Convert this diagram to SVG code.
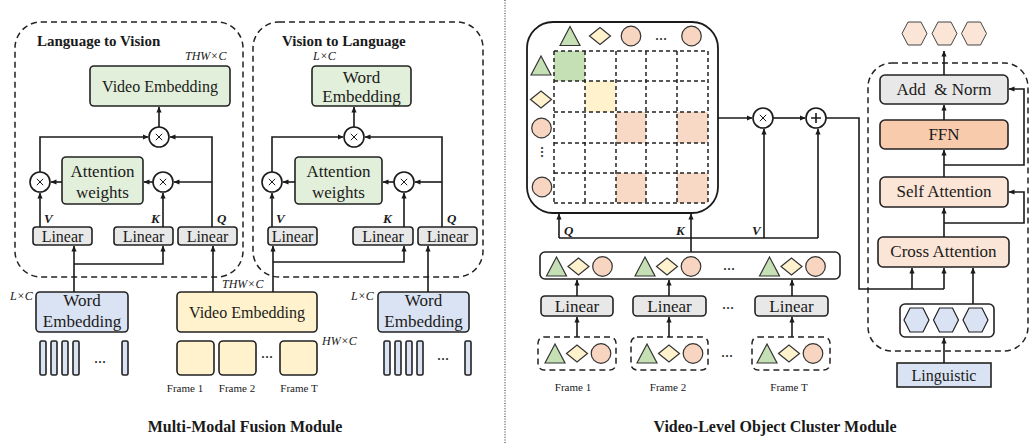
<svg xmlns="http://www.w3.org/2000/svg" width="1031" height="444" viewBox="0 0 1031 444">
  <style>
    text { font-family: "Liberation Serif", "Times New Roman", serif; fill: #1a1a1a; }
    .t16 { font-size: 16px; }
    .t17 { font-size: 17px; }
    .lbl { font-size: 11px; }
    .hd { font-size: 15px; font-weight: bold; }
    .title { font-size: 16px; font-weight: bold; }
    .math { font-size: 12px; font-style: italic; }
    .qkv { font-size: 13px; font-style: italic; font-weight: bold; }
    .box { stroke: #222; stroke-width: 1.6; }
    .green { fill: #e2efda; }
    .blue { fill: #dae3f3; }
    .yellow { fill: #fff2cc; }
    .gray { fill: #e8e8e8; }
    .peach { fill: #fbe5d6; }
    .ffn { fill: #f8cbad; }
    .dash { fill: none; stroke: #222; stroke-width: 1.5; stroke-dasharray: 6 4; }
    .grid { fill: none; stroke: #222; stroke-width: 1.5; stroke-dasharray: 4 3; }
    .ln { fill: none; stroke: #1a1a1a; stroke-width: 1.6; }
    .arr { fill: none; stroke: #1a1a1a; stroke-width: 1.6; marker-end: url(#ah); }
    .op { fill: #fff; stroke: #1a1a1a; stroke-width: 1.6; }
    .tri { fill: #c5e0b4; stroke: #333; stroke-width: 1.2; }
    .dia { fill: #fff2cc; stroke: #333; stroke-width: 1.2; }
    .cir { fill: #f8d5c0; stroke: #333; stroke-width: 1.2; }
  </style>
  <defs>
    <marker id="ah" markerWidth="6" markerHeight="6" refX="5.5" refY="3" orient="auto" markerUnits="userSpaceOnUse">
      <path d="M0,0.4 L6,3 L0,5.6 z" fill="#1a1a1a"/>
    </marker>
    <polygon id="tri" class="tri" points="-10,9.5 0,-9.5 10,9.5"/>
    <polygon id="dia" class="dia" points="-10.5,0 0,-8.5 10.5,0 0,8.5"/>
    <circle id="cir" class="cir" r="9.8"/>
    <polygon id="hexo" points="-12.5,0 -6.5,-11.5 6.5,-11.5 12.5,0 6.5,11.5 -6.5,11.5" fill="#fbe5d6" stroke="#444" stroke-width="1"/>
    <polygon id="hexb" points="-12.5,0 -6.5,-12 6.5,-12 12.5,0 6.5,12 -6.5,12" fill="#dae3f3" stroke="#222" stroke-width="1.2"/>
    <g id="times">
      <circle class="op" r="10"/>
      <path d="M-3.2,-3.2 L3.2,3.2 M-3.2,3.2 L3.2,-3.2" stroke="#1a1a1a" stroke-width="1"/>
    </g>
    <g id="plus">
      <circle class="op" r="10"/>
      <path d="M-5,0 L5,0 M0,-5 L0,5" stroke="#1a1a1a" stroke-width="1.6"/>
    </g>
    <g id="group3">
      <use href="#tri" x="0" y="0"/>
      <use href="#dia" x="22" y="0"/>
      <use href="#cir" x="46" y="0"/>
    </g>
  </defs>

  <rect width="1031" height="444" fill="#fff"/>

  <!-- separator between the two modules -->
  <line x1="505" y1="0" x2="505" y2="444" stroke="#444" stroke-width="1.2" stroke-dasharray="1 1.6"/>

  <!-- ===================== Multi-Modal Fusion Module ===================== -->
  <g id="lang2vision">
    <rect class="dash" x="15" y="22" width="228" height="255" rx="26"/>
    <text class="hd" x="37" y="46">Language to Vision</text>
    <text class="math" x="185" y="60">THW×C</text>
  </g>
  <g id="vis2lang">
    <rect class="dash" x="253" y="22" width="230" height="255" rx="26"/>
    <text class="hd" x="282" y="46">Vision to Language</text>
    <text class="math" x="313" y="60">L×C</text>
  </g>

  <g id="l2v-video-emb">
    <rect class="box green" x="90" y="66" width="140" height="40" rx="4"/>
    <text class="t16" x="160" y="92" text-anchor="middle">Video Embedding</text>
  </g>
  <g id="l2v-attn">
    <rect class="box green" x="62" y="157" width="81" height="47" rx="4"/>
    <text class="t17" x="102.5" y="177" text-anchor="middle">Attention</text>
    <text class="t17" x="102.5" y="198" text-anchor="middle">weights</text>
  </g>
  <g id="l2v-linear-v"><rect class="box gray" x="33" y="227" width="59" height="18" rx="3"/><text class="t16" x="62.5" y="242" text-anchor="middle">Linear</text></g>
  <g id="l2v-linear-k"><rect class="box gray" x="114" y="227" width="59" height="18" rx="3"/><text class="t16" x="143.5" y="242" text-anchor="middle">Linear</text></g>
  <g id="l2v-linear-q"><rect class="box gray" x="178" y="227" width="59" height="18" rx="3"/><text class="t16" x="207.5" y="242" text-anchor="middle">Linear</text></g>
  <g id="l2v-ops">
    <use href="#times" x="159" y="137"/>
    <use href="#times" x="40" y="182"/>
    <use href="#times" x="163" y="182"/>
  </g>

  <g id="v2l-word-emb">
    <rect class="box green" x="312" y="66" width="99" height="40" rx="4"/>
    <text class="t17" x="361.5" y="83" text-anchor="middle">Word</text>
    <text class="t17" x="361.5" y="102" text-anchor="middle">Embedding</text>
  </g>
  <g id="v2l-attn">
    <rect class="box green" x="295" y="157" width="87" height="47" rx="4"/>
    <text class="t17" x="338.5" y="177" text-anchor="middle">Attention</text>
    <text class="t17" x="338.5" y="198" text-anchor="middle">weights</text>
  </g>
  <g id="v2l-linear-v"><rect class="box gray" x="268" y="227" width="49" height="18" rx="3"/><text class="t16" x="292.5" y="242" text-anchor="middle">Linear</text></g>
  <g id="v2l-linear-k"><rect class="box gray" x="353" y="227" width="60" height="18" rx="3"/><text class="t16" x="383" y="242" text-anchor="middle">Linear</text></g>
  <g id="v2l-linear-q"><rect class="box gray" x="418" y="227" width="59" height="18" rx="3"/><text class="t16" x="447.5" y="242" text-anchor="middle">Linear</text></g>
  <g id="v2l-ops">
    <use href="#times" x="354" y="137"/>
    <use href="#times" x="272" y="182"/>
    <use href="#times" x="404" y="182"/>
  </g>

  <g id="qkv-labels-left">
    <text class="qkv" x="44" y="223">V</text>
    <text class="qkv" x="151" y="223">K</text>
    <text class="qkv" x="217" y="223">Q</text>
    <text class="qkv" x="276" y="223">V</text>
    <text class="qkv" x="383" y="223">K</text>
    <text class="qkv" x="447" y="223">Q</text>
  </g>

  <g id="word-emb-left">
    <rect class="box blue" x="36" y="292" width="92" height="40" rx="4"/>
    <text class="t17" x="82" y="306" text-anchor="middle">Word</text>
    <text class="t17" x="82" y="327" text-anchor="middle">Embedding</text>
    <text class="math" x="10" y="300">L×C</text>
  </g>
  <g id="word-tokens-left" class="box blue">
    <rect class="box blue" x="40" y="341" width="6" height="34" rx="1.5"/>
    <rect class="box blue" x="51" y="341" width="6" height="34" rx="1.5"/>
    <rect class="box blue" x="62" y="341" width="6" height="34" rx="1.5"/>
    <rect class="box blue" x="73" y="341" width="6" height="34" rx="1.5"/>
    <rect class="box blue" x="122" y="341" width="6" height="34" rx="1.5"/>
  </g>
  <text class="t16" x="100" y="363" text-anchor="middle">...</text>

  <g id="video-emb">
    <rect class="box yellow" x="177" y="292" width="140" height="40" rx="4"/>
    <text class="t16" x="247" y="318" text-anchor="middle">Video Embedding</text>
    <text class="math" x="222" y="288">THW×C</text>
  </g>
  <g id="video-frames">
    <rect class="box yellow" x="177" y="341" width="37" height="34" rx="4"/>
    <rect class="box yellow" x="219" y="341" width="37" height="34" rx="4"/>
    <rect class="box yellow" x="280" y="341" width="37" height="34" rx="4"/>
    <text class="t16" x="267" y="358" text-anchor="middle">...</text>
    <text class="math" x="322" y="345">HW×C</text>
    <text class="lbl" x="185" y="392" text-anchor="middle">Frame 1</text>
    <text class="lbl" x="237" y="392" text-anchor="middle">Frame 2</text>
    <text class="lbl" x="299" y="392" text-anchor="middle">Frame T</text>
  </g>

  <g id="word-emb-right">
    <rect class="box blue" x="378" y="292" width="91" height="40" rx="4"/>
    <text class="t17" x="423.5" y="306" text-anchor="middle">Word</text>
    <text class="t17" x="423.5" y="327" text-anchor="middle">Embedding</text>
    <text class="math" x="351" y="300">L×C</text>
  </g>
  <g id="word-tokens-right">
    <rect class="box blue" x="384" y="341" width="6" height="34" rx="1.5"/>
    <rect class="box blue" x="395" y="341" width="6" height="34" rx="1.5"/>
    <rect class="box blue" x="406" y="341" width="6" height="34" rx="1.5"/>
    <rect class="box blue" x="417" y="341" width="6" height="34" rx="1.5"/>
    <rect class="box blue" x="465" y="341" width="6" height="34" rx="1.5"/>
  </g>
  <text class="t16" x="443" y="360" text-anchor="middle">...</text>

  <text class="title" x="245" y="432" text-anchor="middle">Multi-Modal Fusion Module</text>

  <!-- ===================== Video-Level Object Cluster Module ===================== -->
  <g id="affinity-matrix">
    <rect x="527" y="22" width="191" height="191" rx="26" fill="#fff" stroke="#1a1a1a" stroke-width="1.8"/>
    <!-- highlighted cells -->
    <rect x="554" y="51" width="31" height="30" fill="#c5e0b4"/>
    <rect x="585" y="81" width="31" height="31" fill="#fff2cc"/>
    <rect x="616" y="112" width="30" height="31" fill="#f8d9c5"/>
    <rect x="677" y="112" width="31" height="31" fill="#f8d9c5"/>
    <rect x="616" y="173" width="30" height="30" fill="#f8d9c5"/>
    <rect x="677" y="173" width="31" height="30" fill="#f8d9c5"/>
    <!-- dashed grid -->
    <path class="grid" d="M554,51 H708 M554,81 H708 M554,112 H708 M554,143 H708 M554,173 H708 M554,203 H708 M554,51 V203 M585,51 V203 M616,51 V203 M646,51 V203 M677,51 V203 M708,51 V203"/>
    <!-- column tokens -->
    <use href="#tri" x="570" y="36"/>
    <use href="#dia" x="600" y="36"/>
    <use href="#cir" x="631" y="36"/>
    <text class="t16" x="661" y="40" text-anchor="middle">...</text>
    <use href="#cir" x="691.5" y="36"/>
    <!-- row tokens -->
    <use href="#tri" x="541" y="65.5"/>
    <use href="#dia" x="541" y="99.5"/>
    <use href="#cir" x="541.5" y="128"/>
    <text class="t16" x="541" y="152" text-anchor="middle" transform="rotate(90 541 152)">...</text>
    <use href="#cir" x="542" y="187"/>
  </g>

  <g id="op-mul-right"><use href="#times" x="763" y="118"/></g>
  <g id="op-add-right"><use href="#plus" x="816" y="118"/></g>

  <g id="token-row">
    <rect class="box" x="540" y="252" width="300" height="27" rx="5" fill="#fff"/>
    <use href="#group3" x="556.5" y="266.5"/>
    <use href="#group3" x="645" y="266.5"/>
    <text class="t16" x="729" y="270" text-anchor="middle">...</text>
    <use href="#group3" x="769.5" y="266.5"/>
  </g>

  <g id="frame1-proj">
    <rect class="box gray" x="541" y="296" width="72" height="20" rx="4"/>
    <text class="t17" x="577" y="312" text-anchor="middle">Linear</text>
  </g>
  <g id="frame2-proj">
    <rect class="box gray" x="633" y="296" width="73" height="20" rx="4"/>
    <text class="t17" x="669.5" y="312" text-anchor="middle">Linear</text>
  </g>
  <g id="frameT-proj">
    <rect class="box gray" x="755" y="296" width="73" height="20" rx="4"/>
    <text class="t17" x="791.5" y="312" text-anchor="middle">Linear</text>
  </g>
  <text class="t16" x="728" y="309" text-anchor="middle">...</text>

  <g id="frame1-objs">
    <rect class="dash" x="538" y="337" width="78" height="33" rx="6"/>
    <use href="#group3" x="555" y="353.5"/>
    <text class="lbl" x="573" y="391" text-anchor="middle">Frame 1</text>
  </g>
  <g id="frame2-objs">
    <rect class="dash" x="631" y="337" width="77" height="33" rx="6"/>
    <use href="#group3" x="647" y="353.5"/>
    <text class="lbl" x="668" y="391" text-anchor="middle">Frame 2</text>
  </g>
  <g id="frameT-objs">
    <rect class="dash" x="752" y="337" width="78" height="33" rx="6"/>
    <use href="#group3" x="767" y="353.5"/>
    <text class="lbl" x="789" y="391" text-anchor="middle">Frame T</text>
  </g>
  <text class="t16" x="727" y="357" text-anchor="middle">...</text>

  <g id="qkv-labels-right">
    <text class="qkv" x="564" y="235">Q</text>
    <text class="qkv" x="676" y="235">K</text>
    <text class="qkv" x="752" y="235">V</text>
  </g>

  <g id="decoder">
    <rect class="dash" x="868" y="63" width="160" height="288" rx="24"/>
  </g>
  <g id="out-queries">
    <use href="#hexo" x="914.5" y="33.5"/>
    <use href="#hexo" x="944.5" y="33.5"/>
    <use href="#hexo" x="974" y="33.5"/>
  </g>
  <g id="add-norm">
    <rect class="box gray" x="880" y="75" width="128" height="29" rx="5"/>
    <text class="t17" x="944" y="95" text-anchor="middle" xml:space="preserve">Add  &amp; Norm</text>
  </g>
  <g id="ffn">
    <rect class="box ffn" x="880" y="120" width="128" height="29" rx="5"/>
    <text class="t17" x="944" y="140" text-anchor="middle">FFN</text>
  </g>
  <g id="self-attn">
    <rect class="box peach" x="880" y="177" width="128" height="30" rx="5"/>
    <text class="t17" x="944" y="197" text-anchor="middle">Self Attention</text>
  </g>
  <g id="cross-attn">
    <rect class="box peach" x="878" y="237" width="131" height="30" rx="5"/>
    <text class="t17" x="943.5" y="257" text-anchor="middle">Cross Attention</text>
  </g>
  <g id="in-queries">
    <rect class="box" x="900" y="304" width="94" height="33" rx="5" fill="#fff"/>
    <use href="#hexb" x="916.5" y="320"/>
    <use href="#hexb" x="946" y="320"/>
    <use href="#hexb" x="975.5" y="320"/>
  </g>
  <g id="linguistic">
    <rect class="box blue" x="897" y="363" width="94" height="24"/>
    <text class="t16" x="944" y="381" text-anchor="middle">Linguistic</text>
  </g>

  <text class="title" x="775" y="432" text-anchor="middle">Video-Level Object Cluster Module</text>

  <!-- ===================== connectors ===================== -->
  <g id="connectors">
    <!-- Language to Vision -->
    <path class="arr" d="M159,127 V107"/>
    <path class="arr" d="M40,172 V137 H148"/>
    <path class="arr" d="M212,227 V137 H170"/>
    <path class="arr" d="M62,182 H51"/>
    <path class="arr" d="M153,182 H144"/>
    <path class="arr" d="M212,182 H174"/>
    <path class="arr" d="M40,227 V193"/>
    <path class="arr" d="M163,227 V193"/>
    <path class="arr" d="M74,292 V246"/>
    <path class="arr" d="M74,264 H163 V246"/>
    <path class="arr" d="M213,292 V246"/>
    <!-- Vision to Language -->
    <path class="arr" d="M354,127 V107"/>
    <path class="arr" d="M272,172 V137 H343"/>
    <path class="arr" d="M442,227 V137 H365"/>
    <path class="arr" d="M295,182 H283"/>
    <path class="arr" d="M394,182 H383"/>
    <path class="arr" d="M442,182 H415"/>
    <path class="arr" d="M272,227 V193"/>
    <path class="arr" d="M404,227 V193"/>
    <path class="arr" d="M273,292 V246"/>
    <path class="arr" d="M273,262 H404 V246"/>
    <path class="arr" d="M428,292 V246"/>

    <!-- object cluster: Q/K/V -->
    <path class="ln" d="M559,238 H818"/>
    <path class="arr" d="M559,238 V214"/>
    <path class="arr" d="M691,252 V214"/>
    <path class="arr" d="M764,238 V129"/>
    <path class="arr" d="M818,238 V129"/>
    <path class="arr" d="M718,118 H752"/>
    <path class="arr" d="M773,118 H805"/>
    <path class="ln" d="M826,118 H859 V289 H944"/>
    <path class="arr" d="M912,289 V268"/>
    <path class="arr" d="M944,289 V268"/>
    <path class="arr" d="M973,304 V268"/>
    <!-- per-frame projections -->
    <path class="arr" d="M577,337 V317"/>
    <path class="arr" d="M669,337 V317"/>
    <path class="arr" d="M792,337 V317"/>
    <path class="arr" d="M577,296 V280"/>
    <path class="arr" d="M669,296 V280"/>
    <path class="arr" d="M792,296 V280"/>
    <!-- decoder stack -->
    <path class="arr" d="M944,363 V338"/>
    <path class="arr" d="M944,237 V208"/>
    <path class="arr" d="M944,177 V150"/>
    <path class="arr" d="M944,120 V105"/>
    <path class="arr" d="M944,75 V51"/>
    <path class="arr" d="M944,165 H1024 V89 H1009"/>
    <path class="arr" d="M944,223 H1024 V192 H1009"/>
  </g>
</svg>
